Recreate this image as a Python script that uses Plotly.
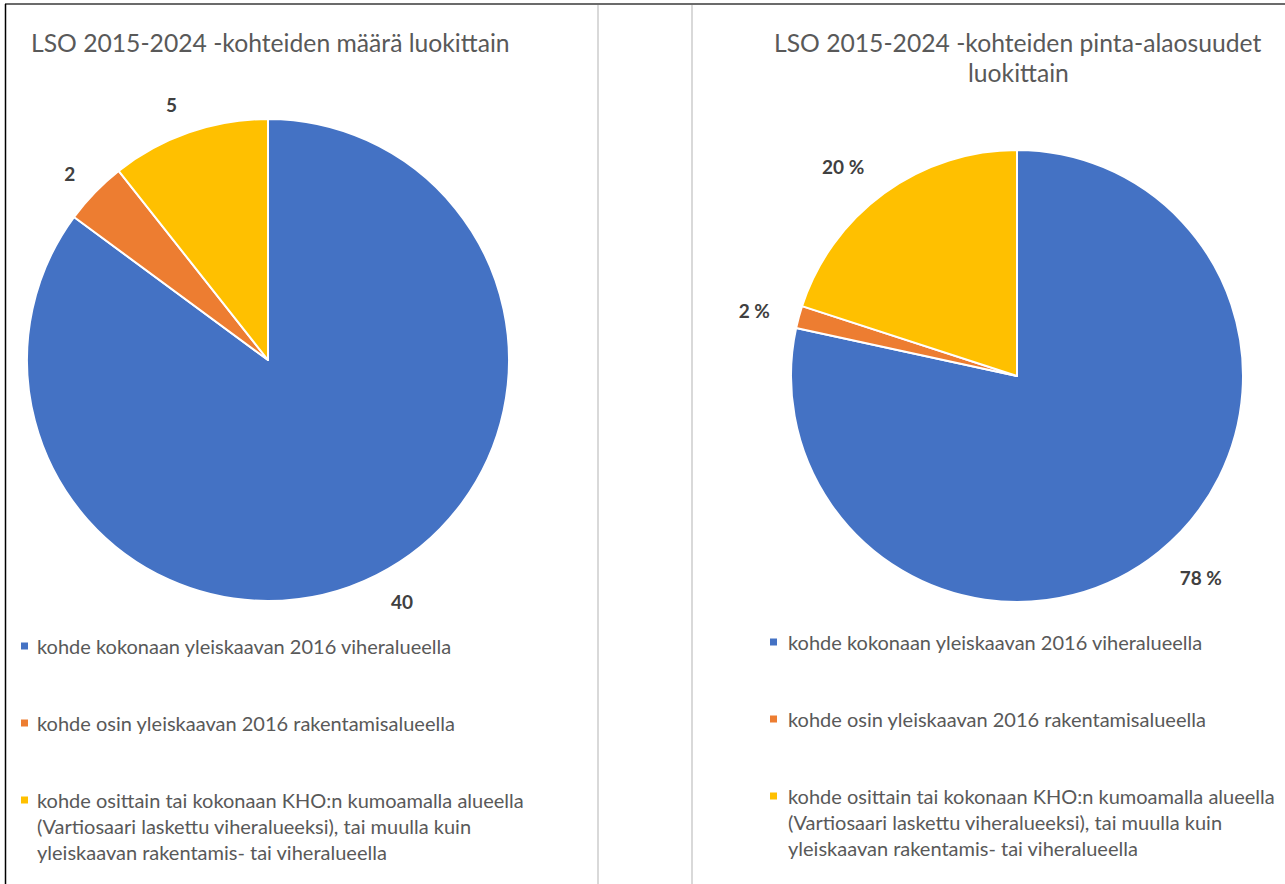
import plotly.graph_objects as go

W, H = 1285, 884

categories = [
    "kohde kokonaan yleiskaavan 2016 viheralueella",
    "kohde osin yleiskaavan 2016 rakentamisalueella",
    "kohde osittain tai kokonaan KHO:n kumoamalla alueella<br>(Vartiosaari laskettu viheralueeksi), tai muulla kuin<br>yleiskaavan rakentamis- tai viheralueella",
]
colors = ["#4472C4", "#ED7D31", "#FFC000"]

count_values = [40, 2, 5]
area_share_values = [78.4, 1.6, 20.0]

title_left = "LSO 2015-2024 -kohteiden määrä luokittain"
title_right = "LSO 2015-2024 -kohteiden pinta-alaosuudet<br>luokittain"

FONT = "Lato, 'Open Sans', sans-serif"
TXT = "#595959"
LBL = "#404040"


def px(x):
    return min(1, max(0, x / W))


def py(y):
    return min(1, max(0, 1 - y / H))


def dom(cx, cy, r):
    return dict(x=[px(cx - r), px(cx + r)], y=[py(cy + r), py(cy - r)])


fig = go.Figure()


def add_pie(values, cx, cy, r, r_lbl, tmpl):
    # transparent ring that carries the data labels just outside the pie
    fig.add_trace(go.Pie(
        labels=categories, values=values, sort=False, direction="clockwise", rotation=0,
        marker=dict(colors=["rgba(0,0,0,0)"] * len(values), line=dict(width=0)),
        textposition="outside", texttemplate=tmpl,
        textfont=dict(family=FONT, size=19, color=LBL, weight="bold"),
        domain=dom(cx, cy, r_lbl), showlegend=False, hoverinfo="skip",
    ))
    fig.add_trace(go.Pie(
        labels=categories, values=values, sort=False, direction="clockwise", rotation=0,
        marker=dict(colors=colors, line=dict(color="white", width=2)),
        textinfo="none", domain=dom(cx, cy, r), showlegend=False,
        hoverinfo="label+value",
    ))


add_pie(count_values, 268, 360, 241, 260, "%{value}")
add_pie(area_share_values, 1017, 376, 226, 250, "%{value:.0f} %")

annotations = [
    dict(text=title_left, x=px(29), y=py(42), xref="paper", yref="paper",
         xanchor="left", yanchor="middle", showarrow=False,
         font=dict(family=FONT, size=24.7, color=TXT)),
]
for i, line in enumerate(title_right.split("<br>")):
    annotations.append(dict(text=line, x=px(1018), y=py(42 + 30 * i), xref="paper", yref="paper",
                            xanchor="center", yanchor="middle", showarrow=False,
                            font=dict(family=FONT, size=24.7, color=TXT)))

shapes = []
legend_specs = [(24.5, 35, 646), (773.5, 786, 642)]
for mx, tx, y0 in legend_specs:
    for k, (cat, col) in enumerate(zip(categories, colors)):
        yy = y0 + 77 * k
        shapes.append(dict(type="rect", xref="paper", yref="paper",
                           x0=px(mx - 3.5), x1=px(mx + 3.5), y0=py(yy + 3.5), y1=py(yy - 3.5),
                           fillcolor=col, line=dict(width=0)))
        for j, line in enumerate(cat.split("<br>")):
            annotations.append(dict(text=line, x=px(tx), y=py(yy + 26 * j), xref="paper", yref="paper",
                                    xanchor="left", yanchor="middle", showarrow=False,
                                    font=dict(family=FONT, size=20, color=TXT)))

shapes += [
    dict(type="line", xref="paper", yref="paper", x0=px(5), x1=1, y0=py(4), y1=py(4),
         line=dict(color="#6b6b6b", width=2)),
    dict(type="line", xref="paper", yref="paper", x0=px(5.5), x1=px(5.5), y0=py(4), y1=0,
         line=dict(color="#000000", width=1.5)),
    dict(type="line", xref="paper", yref="paper", x0=px(598), x1=px(598), y0=py(5), y1=0,
         line=dict(color="#d9d9d9", width=2)),
    dict(type="line", xref="paper", yref="paper", x0=px(692), x1=px(692), y0=py(5), y1=0,
         line=dict(color="#d9d9d9", width=2)),
]

fig.update_layout(
    width=W, height=H, margin=dict(l=0, r=0, t=0, b=0),
    paper_bgcolor="white", plot_bgcolor="white",
    annotations=annotations, shapes=shapes, showlegend=False,
)

fig.write_html(
    "out.html",
    config={"displayModeBar": False},
    post_script="document.body.style.margin='0px';document.body.style.overflow='hidden';",
)
